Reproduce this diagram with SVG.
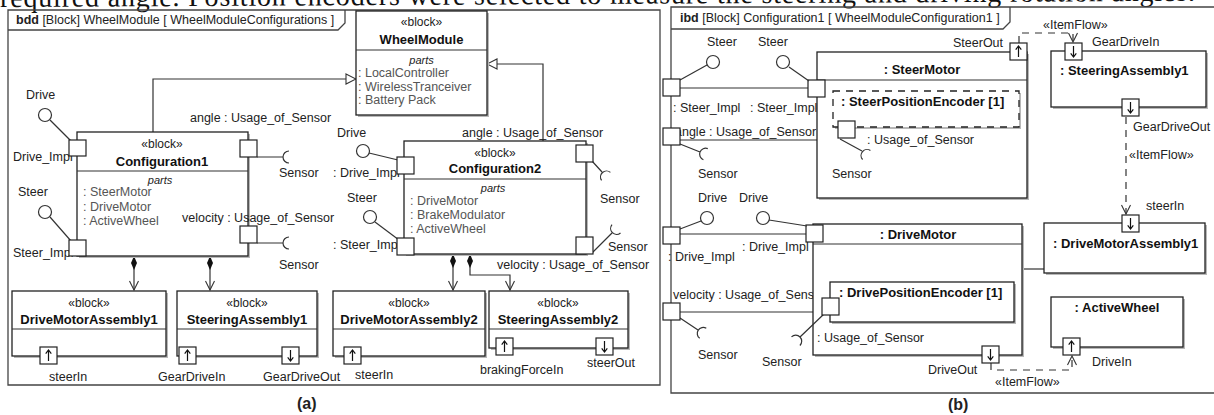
<svg xmlns="http://www.w3.org/2000/svg" xmlns:xlink="http://www.w3.org/1999/xlink" width="1214" height="415" viewBox="0 0 1214 415">
<style>
.t{font-family:"Liberation Sans",Arial,sans-serif;font-size:12.5px;fill:#222}
.c{text-anchor:middle}
.b{font-weight:bold;font-size:13px;fill:#111}
.i{font-style:italic;font-size:11px}
.g{fill:#555}
.st{font-size:12px}
.fr{fill:none;stroke:#444;stroke-width:1.3}
.blk{fill:#fff;stroke:#222;stroke-width:1.3}
.sh{fill:#b8b8b8}
.pt{fill:#fff;stroke:#222;stroke-width:1.2}
.ln{fill:none;stroke:#333;stroke-width:1.2}
.ds{stroke-dasharray:7 6}
.lp{fill:#fff;stroke:#333;stroke-width:1.2}
.lbl{font-family:"Liberation Sans",Arial,sans-serif;font-size:16px;font-weight:bold;fill:#222}
</style>
<defs>
<marker id="gen" viewBox="0 0 12 12" refX="11" refY="6" markerWidth="12" markerHeight="12" orient="auto" markerUnits="userSpaceOnUse"><path d="M1,1 L11,6 L1,11 Z" fill="#fff" stroke="#333" stroke-width="1.1"/></marker>
<marker id="open" viewBox="0 0 12 12" refX="11" refY="6" markerWidth="12" markerHeight="12" orient="auto" markerUnits="userSpaceOnUse"><path d="M2,1.5 L11,6 L2,10.5" fill="none" stroke="#333" stroke-width="1.1"/></marker>
<marker id="dia" viewBox="0 0 14 8" refX="0" refY="4" markerWidth="14" markerHeight="8" orient="auto" markerUnits="userSpaceOnUse"><path d="M0,4 L7,1 L14,4 L7,7 Z" fill="#111"/></marker>
<path id="au" d="M0,5.5 V-5 M-2.8,-1.8 L0,-5.5 L2.8,-1.8" fill="none" stroke="#111" stroke-width="1.2"/>
<path id="ad" d="M0,-5.5 V5 M-2.8,1.8 L0,5.5 L2.8,1.8" fill="none" stroke="#111" stroke-width="1.2"/>
</defs>
<rect width="1214" height="415" fill="#fff"/>
<text x="0" y="7" transform="rotate(-0.3 0 7)" textLength="1195" lengthAdjust="spacing" style="font-family:'Liberation Serif','Times New Roman',serif;font-size:28px;fill:#111">required angle. Position encoders were selected to measure the steering and driving rotation angles.</text>

<g id="frameA">
<path class="fr" d="M8,10 H660 V385 H8 Z"/>
<path class="fr" d="M8,30 H338 L345,23 V10"/>
<text class="t" x="16" y="24"><tspan font-weight="bold">bdd</tspan> [Block] WheelModule [ WheelModuleConfigurations ]</text>
<text class="lbl" x="297" y="409">(a)</text>
</g>

<g id="connectorsA">
<path class="ln" d="M153,132 V79 H356" marker-end="url(#gen)"/>
<path class="ln" d="M543,141 V64 H487" marker-end="url(#gen)"/>
<path class="ln" d="M134,256 V290" marker-start="url(#dia)" marker-end="url(#open)"/>
<path class="ln" d="M210,256 V290" marker-start="url(#dia)" marker-end="url(#open)"/>
<path class="ln" d="M453,254 V290" marker-start="url(#dia)" marker-end="url(#open)"/>
<path class="ln" d="M470,254 V275 H510 V290" marker-start="url(#dia)" marker-end="url(#open)"/>
</g>

<g id="WheelModule">
<rect class="sh" x="358" y="13" width="131" height="104"/>
<rect class="blk" x="356" y="11" width="131" height="104"/>
<line class="ln" x1="356" y1="50" x2="487" y2="50"/>
<text class="t c st" x="421.5" y="26">«block»</text>
<text class="t c b" x="421.5" y="44">WheelModule</text>
<text class="t c i" x="421.5" y="64">parts</text>
<text class="t g" x="358" y="77">: LocalController</text>
<text class="t g" x="358" y="90.5">: WirelessTranceiver</text>
<text class="t g" x="358" y="104">: Battery Pack</text>
</g>

<g id="Configuration1">
<text class="t" x="13" y="161">Drive_Impl</text>
<text class="t" x="13" y="257">Steer_Impl</text>
<rect class="sh" x="79" y="134" width="171" height="124"/>
<rect class="blk" x="77" y="132" width="171" height="124"/>
<line class="ln" x1="77" y1="171" x2="248" y2="171"/>
<text class="t c st" x="162" y="148">«block»</text>
<text class="t c b" x="162" y="166">Configuration1</text>
<text class="t c i" x="160" y="184">parts</text>
<text class="t g" x="83" y="196">: SteerMotor</text>
<text class="t g" x="83" y="211">: DriveMotor</text>
<text class="t g" x="83" y="225">: ActiveWheel</text>
<line class="ln" x1="50" y1="120" x2="71" y2="141"/>
<circle class="lp" cx="45" cy="115" r="6.5"/>
<text class="t" x="26" y="99">Drive</text>
<line class="ln" x1="50" y1="217" x2="71" y2="241"/>
<circle class="lp" cx="45" cy="212" r="6.5"/>
<text class="t" x="18" y="196">Steer</text>
<path class="ln" d="M257,157 H283 M289,163 A6,6 0 0 1 289,151"/>
<path class="ln" d="M257,243 H283 M289,249 A6,6 0 0 1 289,237"/>
<text class="t" x="190" y="122">angle : Usage_of_Sensor</text>
<text class="t" x="279" y="177">Sensor</text>
<text class="t" x="182" y="222">velocity : Usage_of_Sensor</text>
<text class="t" x="279" y="269">Sensor</text>
<rect class="pt" x="69" y="140" width="17" height="16"/>
<rect class="pt" x="69" y="240" width="17" height="16"/>
<rect class="pt" x="240" y="140" width="17" height="17"/>
<rect class="pt" x="240" y="226" width="17" height="17"/>
</g>

<g id="Configuration2">
<text class="t" x="333" y="177">: Drive_Impl</text>
<text class="t" x="333" y="249">: Steer_Impl</text>
<rect class="sh" x="406" y="143" width="182" height="113"/>
<rect class="blk" x="404" y="141" width="182" height="113"/>
<line class="ln" x1="404" y1="179" x2="586" y2="179"/>
<text class="t c st" x="495" y="156.5">«block»</text>
<text class="t c b" x="495" y="173">Configuration2</text>
<text class="t c i" x="493" y="192">parts</text>
<text class="t g" x="410" y="205">: DriveMotor</text>
<text class="t g" x="410" y="219">: BrakeModulator</text>
<text class="t g" x="410" y="233">: ActiveWheel</text>
<line class="ln" x1="369" y1="153" x2="398" y2="160"/>
<circle class="lp" cx="363" cy="151" r="6.5"/>
<text class="t" x="337" y="137">Drive</text>
<line class="ln" x1="375" y1="222" x2="399" y2="240"/>
<circle class="lp" cx="370" cy="217" r="6.5"/>
<text class="t" x="347" y="202">Steer</text>
<path class="ln" d="M592,161 L602,172 M601.6,180.4 A6,6 0 0 1 610.4,172.4"/>
<path class="ln" d="M592,253 L612,233 M620.5,233 A6,6 0 0 1 612,224.6"/>
<text class="t" x="462" y="137">angle : Usage_of_Sensor</text>
<text class="t" x="600" y="203">Sensor</text>
<text class="t" x="608" y="251">Sensor</text>
<text class="t" x="497" y="269">velocity : Usage_of_Sensor</text>
<rect class="pt" x="397" y="157" width="17" height="17"/>
<rect class="pt" x="397" y="238" width="17" height="17"/>
<rect class="pt" x="576" y="145" width="17" height="17"/>
<rect class="pt" x="576" y="237" width="17" height="17"/>
</g>

<g id="DriveMotorAssembly1">
<rect class="sh" x="14" y="293" width="154" height="65"/>
<rect class="blk" x="12" y="291" width="154" height="65"/>
<line class="ln" x1="12" y1="329" x2="166" y2="329"/>
<text class="t c st" x="89" y="306.5">«block»</text>
<text class="t c b" x="89" y="324">DriveMotorAssembly1</text>
<rect class="pt" x="40" y="347" width="17" height="17"/>
<use href="#au" x="48.5" y="355.5"/>
<text class="t" x="49" y="381">steerIn</text>
</g>

<g id="SteeringAssembly1">
<rect class="sh" x="179" y="293" width="140" height="65"/>
<rect class="blk" x="177" y="291" width="140" height="65"/>
<line class="ln" x1="177" y1="329" x2="317" y2="329"/>
<text class="t c st" x="247" y="306.5">«block»</text>
<text class="t c b" x="247" y="324">SteeringAssembly1</text>
<rect class="pt" x="179" y="347" width="17" height="17"/>
<use href="#au" x="187.5" y="355.5"/>
<rect class="pt" x="282" y="347" width="17" height="17"/>
<use href="#ad" x="290.5" y="355.5"/>
<text class="t" x="158" y="381">GearDriveIn</text>
<text class="t" x="263" y="381">GearDriveOut</text>
</g>

<g id="DriveMotorAssembly2">
<rect class="sh" x="335" y="293" width="152" height="65"/>
<rect class="blk" x="333" y="291" width="152" height="65"/>
<line class="ln" x1="333" y1="329" x2="485" y2="329"/>
<text class="t c st" x="409" y="306.5">«block»</text>
<text class="t c b" x="409" y="324">DriveMotorAssembly2</text>
<rect class="pt" x="344" y="347" width="17" height="17"/>
<use href="#au" x="352.5" y="355.5"/>
<text class="t" x="355" y="379">steerIn</text>
</g>

<g id="SteeringAssembly2">
<rect class="sh" x="491" y="293" width="139" height="57"/>
<rect class="blk" x="489" y="291" width="139" height="57"/>
<line class="ln" x1="489" y1="329" x2="628" y2="329"/>
<text class="t c st" x="558" y="306.5">«block»</text>
<text class="t c b" x="558" y="324">SteeringAssembly2</text>
<rect class="pt" x="496" y="338" width="17" height="17"/>
<use href="#au" x="504.5" y="346.5"/>
<rect class="pt" x="596" y="338" width="17" height="17"/>
<use href="#ad" x="604.5" y="346.5"/>
<text class="t" x="480" y="374">brakingForceIn</text>
<text class="t" x="587" y="367">steerOut</text>
</g>

<g id="frameB">
<path class="fr" d="M1214,7 H671 V393 H1214"/>
<path class="fr" d="M671,29 H1003 L1010,22 V7"/>
<text class="t" x="680" y="22"><tspan font-weight="bold">ibd</tspan> [Block] Configuration1 [ WheelModuleConfiguration1 ]</text>
<text class="lbl" x="948" y="410">(b)</text>
</g>

<g id="labelsB">
<text class="t" x="675" y="136">angle : Usage_of_Sensor</text>
<text class="t" x="673" y="299">velocity : Usage_of_Sensor</text>
</g>

<g id="connectorsB">
<line class="ln" x1="680" y1="88" x2="808" y2="88"/>
<line class="ln" x1="680" y1="140" x2="838" y2="140"/>
<line class="ln" x1="680" y1="234" x2="806" y2="234"/>
<line class="ln" x1="680" y1="312" x2="822" y2="312"/>
<line class="ln" x1="1022" y1="269" x2="1044" y2="269"/>
<path class="ln ds" d="M1019,43 V33 H1073 V42" marker-end="url(#open)"/>
<path class="ln ds" d="M1126,117 V214" marker-end="url(#open)"/>
<path class="ln ds" d="M991,363 V370 H1072 V356" marker-end="url(#open)"/>
<text class="t" x="1043" y="29">«ItemFlow»</text>
<text class="t" x="1129" y="159">«ItemFlow»</text>
<text class="t" x="995" y="386">«ItemFlow»</text>
</g>

<g id="SteerMotor">
<rect class="sh" x="819" y="54" width="210" height="146"/>
<rect class="blk" x="817" y="52" width="210" height="146"/>
<line class="ln" x1="817" y1="80" x2="1027" y2="80"/>
<text class="t c b" x="922" y="74">: SteerMotor</text>
<rect class="pt" x="808" y="80" width="17" height="17"/>
<rect class="pt" x="1010" y="43" width="17" height="17"/>
<use href="#au" x="1018.5" y="51.5"/>
<text class="t" x="953" y="47">SteerOut</text>
</g>

<g id="SteerPositionEncoder">
<rect class="sh" x="835" y="93" width="186" height="36"/>
<rect class="blk ds" x="833" y="91" width="186" height="36"/>
<text class="t b" x="841" y="106">: SteerPositionEncoder [1]</text>
<path class="ln" d="M840,139 L862,151 M862.6,159.5 A6,6 0 0 1 870.4,150.5"/>
<rect class="pt" x="838" y="121" width="17" height="17"/>
<text class="t" x="867" y="144">: Usage_of_Sensor</text>
<text class="t" x="832" y="178">Sensor</text>
</g>

<g id="DriveMotor">
<rect class="sh" x="815" y="226" width="209" height="131"/>
<rect class="blk" x="813" y="224" width="209" height="131"/>
<line class="ln" x1="813" y1="244" x2="1022" y2="244"/>
<text class="t c b" x="918" y="239">: DriveMotor</text>
<rect class="pt" x="806" y="225" width="17" height="17"/>
<rect class="pt" x="982" y="346" width="17" height="17"/>
<use href="#ad" x="990.5" y="354.5"/>
<text class="t" x="928" y="374">DriveOut</text>
</g>

<g id="DrivePositionEncoder">
<rect class="sh" x="832" y="284" width="184" height="40"/>
<rect class="blk" x="830" y="282" width="184" height="40"/>
<text class="t b" x="839" y="297">: DrivePositionEncoder [1]</text>
<path class="ln" d="M824,314 L800,337 M791.5,336.9 A6,6 0 0 1 799.9,345.5"/>
<rect class="pt" x="822" y="298" width="17" height="17"/>
<text class="t" x="817" y="342">: Usage_of_Sensor</text>
<text class="t" x="762" y="366">Sensor</text>
</g>

<g id="SteeringAssembly1b">
<rect class="sh" x="1053" y="53" width="155" height="56"/>
<rect class="blk" x="1051" y="51" width="155" height="56"/>
<text class="t b" x="1060" y="75">: SteeringAssembly1</text>
<rect class="pt" x="1065" y="43" width="17" height="17"/>
<use href="#ad" x="1073.5" y="51.5"/>
<rect class="pt" x="1122" y="99" width="17" height="17"/>
<use href="#ad" x="1130.5" y="107.5"/>
<text class="t" x="1092" y="46">GearDriveIn</text>
<text class="t" x="1133" y="131">GearDriveOut</text>
</g>

<g id="DriveMotorAssembly1b">
<rect class="sh" x="1046" y="225" width="161" height="50"/>
<rect class="blk" x="1044" y="223" width="161" height="50"/>
<text class="t b" x="1053" y="248">: DriveMotorAssembly1</text>
<rect class="pt" x="1122" y="215" width="17" height="17"/>
<use href="#ad" x="1130.5" y="223.5"/>
<text class="t" x="1146" y="210">steerIn</text>
</g>

<g id="ActiveWheel">
<rect class="sh" x="1053" y="299" width="132" height="50"/>
<rect class="blk" x="1051" y="297" width="132" height="50"/>
<text class="t c b" x="1117" y="312">: ActiveWheel</text>
<rect class="pt" x="1063" y="338" width="17" height="17"/>
<use href="#au" x="1071.5" y="346.5"/>
<text class="t" x="1092" y="366">DriveIn</text>
</g>

<g id="boundaryPortsB">
<line class="ln" x1="680" y1="80" x2="707" y2="65"/>
<circle class="lp" cx="713" cy="62" r="6.5"/>
<line class="ln" x1="789" y1="67" x2="809" y2="81"/>
<circle class="lp" cx="783" cy="62" r="6.5"/>
<text class="t" x="707" y="46">Steer</text>
<text class="t" x="758" y="46">Steer</text>
<text class="t" x="673" y="112">: Steer_Impl</text>
<text class="t" x="750" y="112">: Steer_Impl</text>
<path class="ln" d="M680,144 L700,152 M703.4,159.8 A6,6 0 0 1 707.8,148.6"/>
<text class="t" x="698" y="178">Sensor</text>
<line class="ln" x1="680" y1="229" x2="701" y2="221"/>
<circle class="lp" cx="707" cy="218" r="6.5"/>
<line class="ln" x1="769" y1="220" x2="807" y2="226"/>
<circle class="lp" cx="763" cy="218" r="6.5"/>
<text class="t" x="698" y="202">Drive</text>
<text class="t" x="739" y="202">Drive</text>
<text class="t" x="668" y="261">: Drive_Impl</text>
<text class="t" x="742" y="251">: Drive_Impl</text>
<path class="ln" d="M680,318 L698,330 M699.7,338.3 A6,6 0 0 1 706.3,328.3"/>
<text class="t" x="698" y="359">Sensor</text>
<rect class="pt" x="663" y="79" width="17" height="17"/>
<rect class="pt" x="663" y="128" width="17" height="17"/>
<rect class="pt" x="663" y="227" width="17" height="17"/>
<rect class="pt" x="663" y="303" width="17" height="17"/>
</g>
</svg>
